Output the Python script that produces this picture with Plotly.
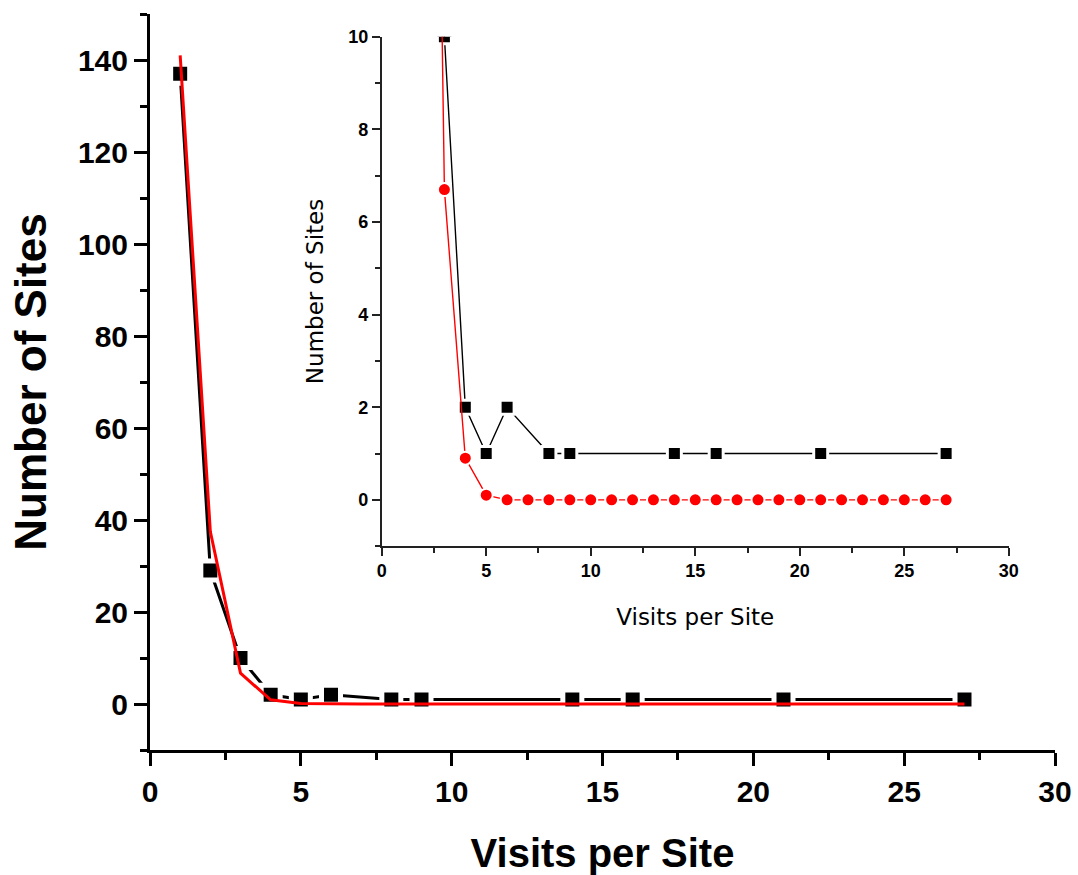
import plotly.graph_objects as go

# Observed counts: how many sites received a given number of visits
visits = [1, 2, 3, 4, 5, 6, 8, 9, 14, 16, 21, 27]
sites = [137, 29, 10, 2, 1, 2, 1, 1, 1, 1, 1, 1]

# Model prediction evaluated at every visit count 1..27
model_visits = [1, 2, 3, 4, 5, 6, 7, 8, 9, 10, 11, 12, 13, 14, 15, 16, 17, 18,
                19, 20, 21, 22, 23, 24, 25, 26, 27]
model_sites = [141.0, 37.5, 6.7, 0.9, 0.1, 0.0, 0.0, 0.0, 0.0, 0.0, 0.0, 0.0,
               0.0, 0.0, 0.0, 0.0, 0.0, 0.0, 0.0, 0.0, 0.0, 0.0, 0.0, 0.0,
               0.0, 0.0, 0.0]

x_title = "Visits per Site"
y_title = "Number of Sites"

BOLD = "Liberation Sans"
THIN = "DejaVu Sans"

fig = go.Figure()

# ---- main panel ----
fig.add_trace(go.Scatter(
    x=visits, y=sites, mode="lines+markers",
    line=dict(color="black", width=3),
    marker=dict(symbol="square", size=19, color="black",
                line=dict(color="white", width=5)),
    xaxis="x", yaxis="y", showlegend=False, cliponaxis=True))
fig.add_trace(go.Scatter(
    x=model_visits, y=model_sites, mode="lines",
    line=dict(color="#ff0000", width=3),
    xaxis="x", yaxis="y", showlegend=False))

# ---- inset: same data, zoomed on the low counts ----
fig.add_trace(go.Scatter(
    x=visits, y=sites, mode="lines+markers",
    line=dict(color="black", width=1.4),
    marker=dict(symbol="square", size=14, color="black",
                line=dict(color="white", width=3)),
    xaxis="x2", yaxis="y2", showlegend=False, cliponaxis=True))
fig.add_trace(go.Scatter(
    x=model_visits, y=model_sites, mode="lines+markers",
    line=dict(color="#ff0000", width=1.4),
    marker=dict(symbol="circle", size=13, color="#ff0000",
                line=dict(color="white", width=2)),
    xaxis="x2", yaxis="y2", showlegend=False, cliponaxis=True))

main_axis = dict(
    showgrid=False, zeroline=False, showline=True, linewidth=3, linecolor="black",
    ticks="outside", ticklen=13, tickwidth=3, tickcolor="black", automargin=False,
    tickfont=dict(family=BOLD, size=30, color="black", weight="bold"),
)
inset_axis = dict(
    showgrid=False, zeroline=False, showline=True, linewidth=1.5, linecolor="#222",
    ticks="outside", ticklen=8, tickwidth=1.5, tickcolor="#222", automargin=False,
    tickfont=dict(family=BOLD, size=18, color="black", weight="bold"),
)

fig.update_layout(
    width=1078, height=875,
    margin=dict(l=150, r=23, t=14, b=125),
    paper_bgcolor="white", plot_bgcolor="white",
    xaxis=dict(
        **main_axis, domain=[0, 1], range=[0, 30],
        tickmode="linear", tick0=0, dtick=5,
        minor=dict(ticks="outside", dtick=2.5, ticklen=7, tickwidth=3, tickcolor="black"),
        title=dict(text=x_title, standoff=38,
                   font=dict(family=BOLD, size=40, color="black", weight="bold")),
        anchor="y"),
    yaxis=dict(
        **main_axis, domain=[0, 1], range=[-10, 150],
        tickmode="linear", tick0=0, dtick=20,
        minor=dict(ticks="outside", dtick=10, ticklen=7, tickwidth=3, tickcolor="black"),
        title=dict(text=y_title, standoff=18,
                   font=dict(family=BOLD, size=44, color="black", weight="bold")),
        anchor="x"),
    xaxis2=dict(
        **inset_axis, domain=[0.256, 0.949], range=[0, 30],
        tickmode="linear", tick0=0, dtick=5,
        minor=dict(ticks="outside", dtick=2.5, ticklen=5, tickwidth=1.5, tickcolor="#222"),
        title=dict(text=x_title, standoff=28,
                   font=dict(family=THIN, size=23, color="black")),
        anchor="y2"),
    yaxis2=dict(
        **inset_axis, domain=[0.277, 0.969], range=[-1, 10],
        tickmode="linear", tick0=0, dtick=2,
        minor=dict(ticks="outside", dtick=1, ticklen=5, tickwidth=1.5, tickcolor="#222"),
        title=dict(text=y_title, standoff=18,
                   font=dict(family=THIN, size=23, color="black")),
        anchor="x2"),
)

fig.write_html("out.html")
